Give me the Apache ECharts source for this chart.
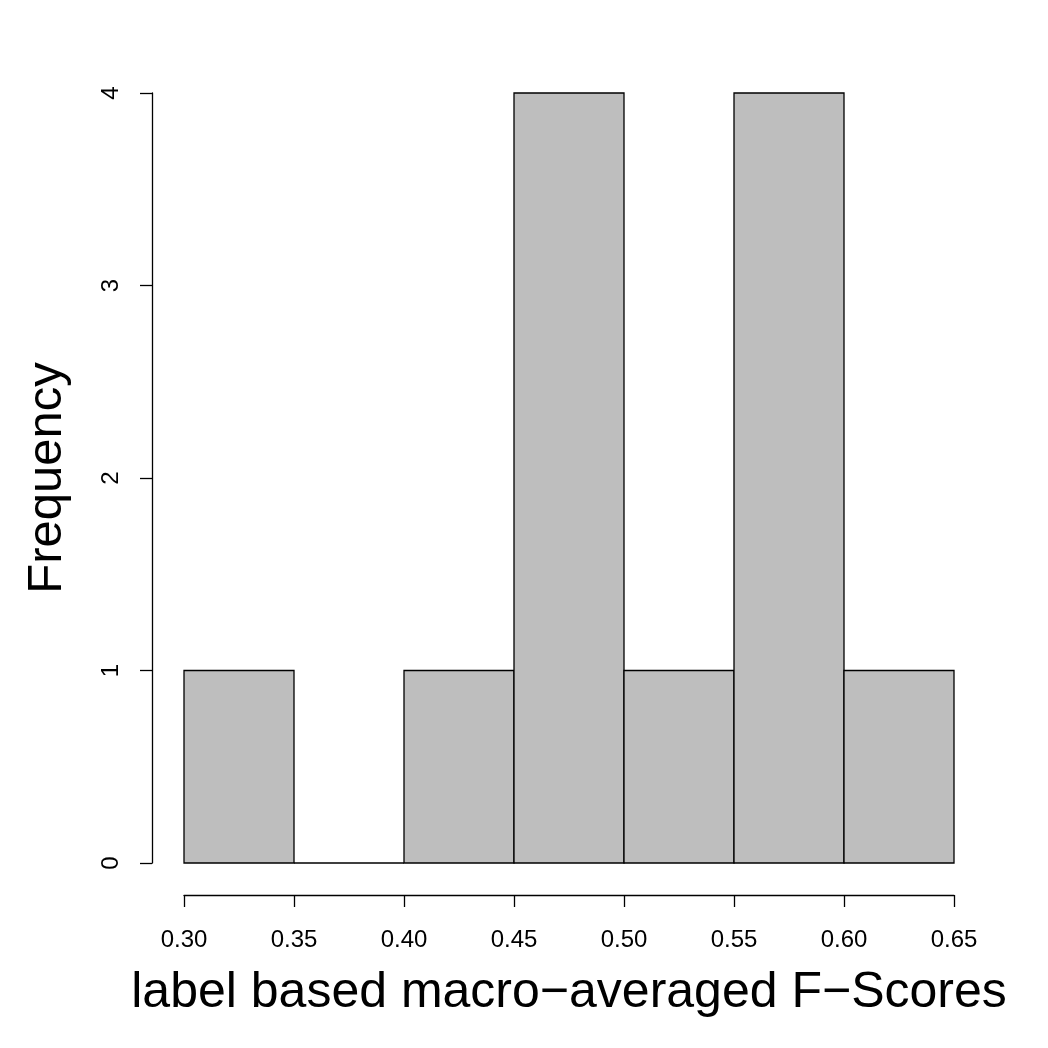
<!DOCTYPE html>
<html>
<head>
<meta charset="utf-8">
<script src="https://cdn.jsdelivr.net/npm/echarts@6/dist/echarts.min.js"></script>
<style>
  html, body { margin: 0; padding: 0; background: #fff; }
  #chart { width: 1048px; height: 1048px; }
</style>
</head>
<body>
<div id="chart"></div>
<script>
// histogram bins (left edge, right edge) and counts
var binStarts = [0.30, 0.35, 0.40, 0.45, 0.50, 0.55, 0.60]
var binEnds = [0.35, 0.40, 0.45, 0.50, 0.55, 0.60, 0.65]
var counts = [1, 0, 1, 4, 1, 4, 1]

var data = []
for (var i = 0; i < counts.length; i++) {
  data.push([binStarts[i], binEnds[i], counts[i]])
}

var font = 'Liberation Sans, Arial, Helvetica, sans-serif'
var chart = echarts.init(document.getElementById('chart'))

var option = {
  animation: false,
  backgroundColor: '#fff',
  grid: { left: 184, right: 94, top: 93, bottom: 185 },
  xAxis: {
    type: 'value',
    min: 0.30,
    max: 0.65,
    interval: 0.05,
    offset: 32,
    name: 'label based macro\u2212averaged F\u2212Scores',
    nameLocation: 'middle',
    nameGap: 73,
    nameTextStyle: { fontFamily: font, fontSize: 50, color: '#000' },
    axisLine: { show: true, onZero: false, lineStyle: { color: '#000', width: 1.3 } },
    axisTick: { show: true, length: 12, lineStyle: { color: '#000', width: 1.3 } },
    axisLabel: {
      margin: 33,
      fontFamily: font, fontSize: 24, color: '#000',
      formatter: function (v) { return v.toFixed(2) }
    },
    splitLine: { show: false }
  },
  yAxis: {
    type: 'value',
    min: 0,
    max: 4,
    interval: 1,
    offset: 32,
    name: 'Frequency',
    nameLocation: 'middle',
    nameGap: 80,
    nameRotate: 90,
    nameTextStyle: { fontFamily: font, fontSize: 49, color: '#000' },
    axisLine: { show: true, onZero: false, lineStyle: { color: '#000', width: 1.3 } },
    axisTick: { show: true, length: 12, lineStyle: { color: '#000', width: 1.3 } },
    axisLabel: {
      margin: 29, rotate: 90,
      fontFamily: font, fontSize: 24, color: '#000'
    },
    splitLine: { show: false }
  },
  series: [{
    type: 'custom',
    data: data,
    encode: { x: [0, 1], y: 2 },
    renderItem: function (params, api) {
      // empty bins still get a flat outline, like R's hist()
      var p0 = api.coord([api.value(0), api.value(2)])
      var p1 = api.coord([api.value(1), 0])
      return {
        type: 'rect',
        shape: { x: p0[0], y: p0[1], width: p1[0] - p0[0], height: p1[1] - p0[1] },
        style: { fill: '#bebebe', stroke: '#000', lineWidth: 1.3 }
      }
    }
  }]
}
chart.setOption(option)
</script>
</body>
</html>
